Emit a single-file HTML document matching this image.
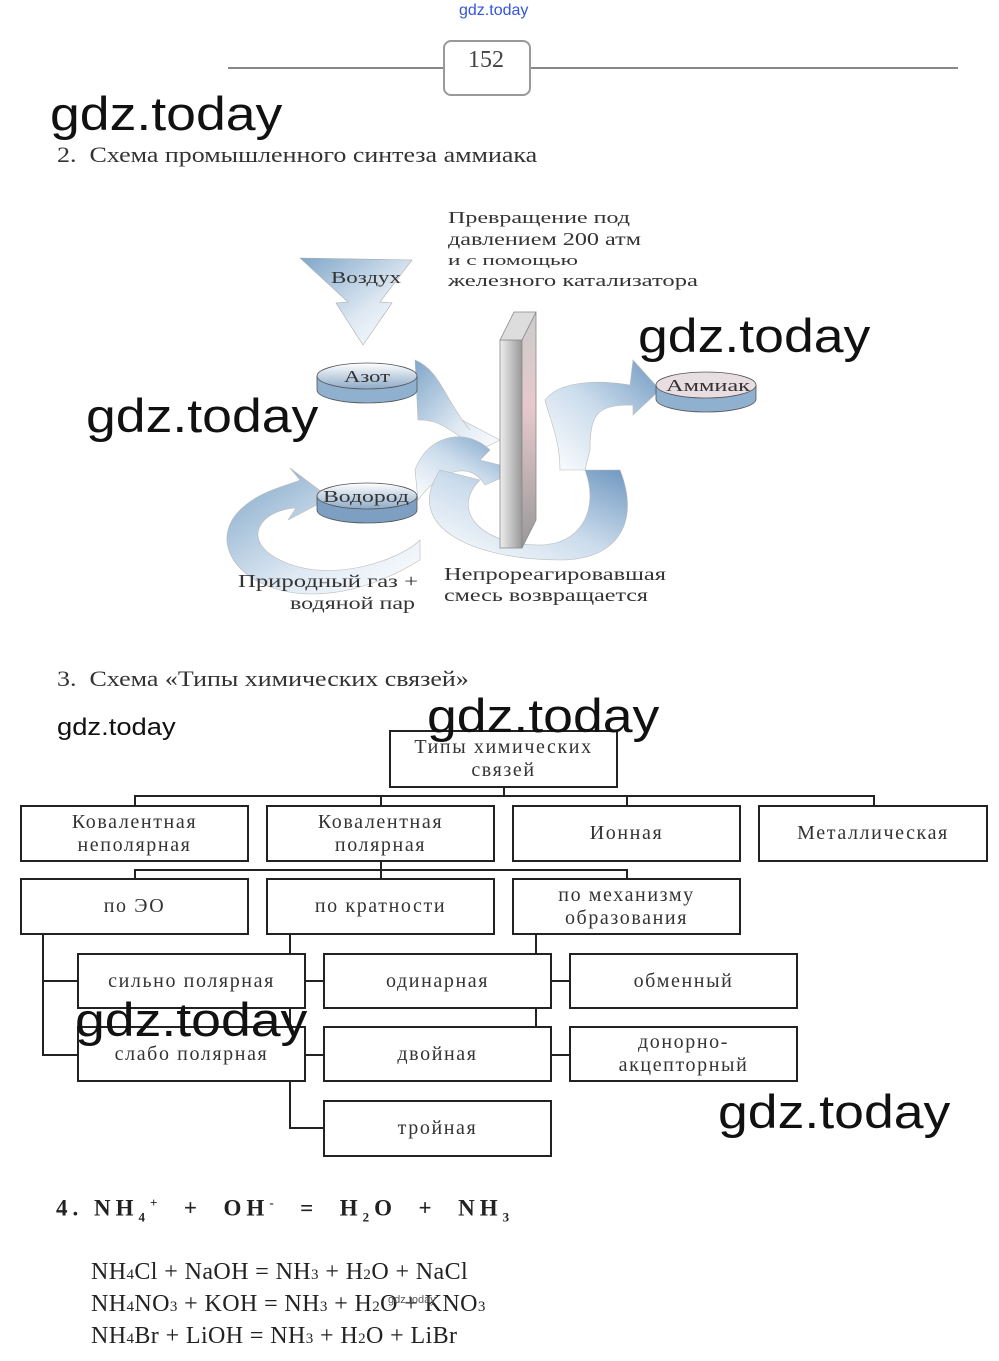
<!DOCTYPE html>
<html><head><meta charset="utf-8"><style>
body{margin:0;width:999px;height:1361px;background:#fff;position:relative;overflow:hidden;font-family:"Liberation Serif",serif;color:#222}
.a{position:absolute;white-space:nowrap}
.wm{position:absolute;font-family:"Liberation Sans",sans-serif;color:#111;font-size:47px;line-height:1;white-space:nowrap;transform:scaleX(1.14);transform-origin:0 0}
.b{position:absolute;border:2px solid #222;box-sizing:border-box;display:flex;align-items:center;justify-content:center;text-align:center;font-size:20px;line-height:23px;color:#333;background:#fff;letter-spacing:1.6px}
.l{position:absolute;background:#222}
.eq{font-size:24px;color:#222;letter-spacing:0.4px}
.h{font-size:22px;color:#333;transform:scaleX(1.18);transform-origin:0 0}
</style></head><body>
<div class="a" style="left:459px;top:2px;font-family:'Liberation Sans',sans-serif;font-size:16px;color:#3355dd">gdz.today</div>
<div class="l" style="left:228px;top:67px;width:216px;height:2px;background:#888"></div>
<div class="l" style="left:530px;top:67px;width:428px;height:2px;background:#888"></div>
<div class="a" style="left:443px;top:40px;width:88px;height:56px;border:2px solid #999;border-radius:8px;box-sizing:border-box"></div>
<div class="a" style="left:468px;top:47px;font-size:24px;color:#444">152</div>

<div class="a h" style="left:57px;top:142px">2.&nbsp; Схема промышленного синтеза аммиака</div>

<svg class="a" style="left:0;top:190px" width="999" height="450" viewBox="0 190 999 450">
<defs>
<linearGradient id="g" x1="0" y1="0" x2="1" y2="1"><stop offset="0" stop-color="#7fa6c8"/><stop offset="0.6" stop-color="#dfe9f3"/><stop offset="1" stop-color="#fff"/></linearGradient>
<linearGradient id="g2" x1="1" y1="0" x2="0" y2="1"><stop offset="0" stop-color="#6f98c0"/><stop offset="0.5" stop-color="#cbdcec"/><stop offset="1" stop-color="#fff"/></linearGradient>
<linearGradient id="col" x1="0" y1="0" x2="1" y2="0"><stop offset="0" stop-color="#eee"/><stop offset="1" stop-color="#999"/></linearGradient>
<linearGradient id="side" x1="0" y1="0" x2="0" y2="1"><stop offset="0" stop-color="#ccc"/><stop offset="0.4" stop-color="#e7c9cc"/><stop offset="1" stop-color="#999"/></linearGradient>
<linearGradient id="disk" x1="0" y1="0" x2="0" y2="1"><stop offset="0" stop-color="#fff"/><stop offset="1" stop-color="#8eaac7"/></linearGradient>
</defs>
<path d="M300 258 L412 260 L380 302 L392 303 L363 345 L336 303 L348 302 Z" fill="url(#g)" stroke="#aaa" stroke-width="0.6"/>
<path d="M415 360 C440 370 445 400 470 430 L462 420 L500 440 L470 455 L472 446 C440 420 430 420 418 420 Z" fill="url(#g)" stroke="#bbb" stroke-width="0.6"/>
<path d="M415 470 C430 430 470 430 490 450 L480 460 L520 470 L485 485 C470 460 440 470 418 500 Z" fill="url(#g2)" stroke="#bbb" stroke-width="0.6"/>
<path d="M420 560 C290 640 190 560 240 510 C260 490 290 485 300 480 L290 468 L330 498 L288 520 L296 508 C260 510 240 540 280 560 C330 585 400 560 420 540 Z" fill="url(#g)" stroke="#bbb" stroke-width="0.6"/>
<path d="M440 470 C400 530 480 560 560 560 C620 560 640 520 620 470 L585 470 C600 510 580 545 540 545 C480 545 450 510 480 480 Z" fill="url(#g2)" stroke="#bbb" stroke-width="0.6"/>
<path d="M545 400 C560 380 600 380 630 385 L633 360 L660 390 L633 415 L633 405 C600 405 590 410 590 450 L585 470 L560 470 C560 440 550 420 545 400 Z" fill="url(#g2)" stroke="#bbb" stroke-width="0.6"/>
<path d="M500 340 L522 340 L522 548 L500 548 Z" fill="url(#col)" stroke="#888" stroke-width="0.8"/>
<path d="M522 340 L536 312 L536 520 L522 548 Z" fill="url(#side)" stroke="#888" stroke-width="0.8"/>
<path d="M500 340 L514 312 L536 312 L522 340 Z" fill="#ddd" stroke="#888" stroke-width="0.8"/>
<g stroke="#555" stroke-width="0.8">
<path d="M317 376 v14 a50 13 0 0 0 100 0 v-14" fill="#8fb0cf"/><ellipse cx="367" cy="376" rx="50" ry="13" fill="url(#disk)"/>
<path d="M317 496 v14 a50 13 0 0 0 100 0 v-14" fill="#7d9fc2"/><ellipse cx="367" cy="496" rx="50" ry="13" fill="url(#disk)"/>
<path d="M656 385 v14 a50 13 0 0 0 100 0 v-14" fill="#8fb0cf"/><ellipse cx="706" cy="385" rx="50" ry="13" fill="#e8dde0"/>
</g>
<g font-family="Liberation Serif,serif" fill="#333">
<text x="331" y="283" font-size="17" textLength="70" lengthAdjust="spacingAndGlyphs">Воздух</text>
<text x="344" y="382" font-size="17" textLength="46" lengthAdjust="spacingAndGlyphs">Азот</text>
<text x="323" y="502" font-size="17" textLength="86" lengthAdjust="spacingAndGlyphs">Водород</text>
<text x="666" y="391" font-size="17" textLength="84" lengthAdjust="spacingAndGlyphs">Аммиак</text>
<text x="448" y="223" font-size="17" textLength="182" lengthAdjust="spacingAndGlyphs">Превращение под</text>
<text x="448" y="245" font-size="18" textLength="193" lengthAdjust="spacingAndGlyphs">давлением 200 атм</text>
<text x="448" y="265" font-size="15" textLength="130" lengthAdjust="spacingAndGlyphs">и с помощью</text>
<text x="448" y="286" font-size="17" textLength="250" lengthAdjust="spacingAndGlyphs">железного катализатора</text>
<text x="238" y="587" font-size="18" textLength="180" lengthAdjust="spacingAndGlyphs">Природный газ +</text>
<text x="290" y="609" font-size="18" textLength="125" lengthAdjust="spacingAndGlyphs">водяной пар</text>
<text x="444" y="580" font-size="18" textLength="222" lengthAdjust="spacingAndGlyphs">Непрореагировавшая</text>
<text x="444" y="601" font-size="18" textLength="204" lengthAdjust="spacingAndGlyphs">смесь возвращается</text>
</g>
</svg>

<div class="a h" style="left:57px;top:666px">3.&nbsp; Схема «Типы химических связей»</div>

<div class="l" style="left:503px;top:787px;width:2px;height:10px"></div>
<div class="l" style="left:134px;top:795px;width:741px;height:2px"></div>
<div class="l" style="left:134px;top:795px;width:2px;height:10px"></div>
<div class="l" style="left:380px;top:795px;width:2px;height:10px"></div>
<div class="l" style="left:626px;top:795px;width:2px;height:10px"></div>
<div class="l" style="left:873px;top:795px;width:2px;height:10px"></div>
<div class="l" style="left:134px;top:869px;width:494px;height:2px"></div>
<div class="l" style="left:380px;top:861px;width:2px;height:17px"></div>
<div class="l" style="left:134px;top:869px;width:2px;height:9px"></div>
<div class="l" style="left:626px;top:869px;width:2px;height:9px"></div>
<div class="l" style="left:42px;top:934px;width:2px;height:122px"></div>
<div class="l" style="left:42px;top:980px;width:36px;height:2px"></div>
<div class="l" style="left:42px;top:1054px;width:36px;height:2px"></div>
<div class="l" style="left:289px;top:934px;width:2px;height:194px"></div>
<div class="l" style="left:289px;top:1127px;width:34px;height:2px"></div>
<div class="l" style="left:305px;top:980px;width:18px;height:2px"></div>
<div class="l" style="left:305px;top:1054px;width:18px;height:2px"></div>
<div class="l" style="left:535px;top:934px;width:2px;height:122px"></div>
<div class="l" style="left:551px;top:980px;width:19px;height:2px"></div>
<div class="l" style="left:551px;top:1054px;width:19px;height:2px"></div>

<div class="b" style="left:389px;top:730px;width:229px;height:58px">Типы химических<br>связей</div>
<div class="b" style="left:20px;top:805px;width:229px;height:57px">Ковалентная<br>неполярная</div>
<div class="b" style="left:266px;top:805px;width:229px;height:57px">Ковалентная<br>полярная</div>
<div class="b" style="left:512px;top:805px;width:229px;height:57px">Ионная</div>
<div class="b" style="left:758px;top:805px;width:230px;height:57px">Металлическая</div>
<div class="b" style="left:20px;top:878px;width:229px;height:57px">по ЭО</div>
<div class="b" style="left:266px;top:878px;width:229px;height:57px">по кратности</div>
<div class="b" style="left:512px;top:878px;width:229px;height:57px">по механизму<br>образования</div>
<div class="b" style="left:77px;top:953px;width:229px;height:56px">сильно полярная</div>
<div class="b" style="left:77px;top:1026px;width:229px;height:56px">слабо полярная</div>
<div class="b" style="left:323px;top:953px;width:229px;height:56px">одинарная</div>
<div class="b" style="left:323px;top:1026px;width:229px;height:56px">двойная</div>
<div class="b" style="left:323px;top:1100px;width:229px;height:57px">тройная</div>
<div class="b" style="left:569px;top:953px;width:229px;height:56px">обменный</div>
<div class="b" style="left:569px;top:1026px;width:229px;height:56px">донорно-<br>акцепторный</div>
<div class="l" style="left:535px;top:1008px;width:2px;height:19px"></div>

<div class="a" style="left:56px;top:1195px;font-size:23px;font-weight:bold;letter-spacing:5px;color:#222">4. NH<sub style="font-size:13px">4</sub><sup style="font-size:13px">+</sup>&nbsp; + &nbsp;OH<sup style="font-size:13px">-</sup>&nbsp; = &nbsp;H<sub style="font-size:13px">2</sub>O &nbsp;+ &nbsp;NH<sub style="font-size:13px">3</sub></div>
<div class="a eq" style="left:91px;top:1259px">NH<span style="font-size:15px">4</span>Cl + NaOH = NH<span style="font-size:15px">3</span> + H<span style="font-size:15px">2</span>O + NaCl</div>
<div class="a eq" style="left:91px;top:1291px">NH<span style="font-size:15px">4</span>NO<span style="font-size:15px">3</span> + KOH = NH<span style="font-size:15px">3</span> + H<span style="font-size:15px">2</span>O + KNO<span style="font-size:15px">3</span></div>
<div class="a eq" style="left:91px;top:1323px">NH<span style="font-size:15px">4</span>Br + LiOH = NH<span style="font-size:15px">3</span> + H<span style="font-size:15px">2</span>O + LiBr</div>
<div class="a" style="left:388px;top:1294px;font-family:'Liberation Sans',sans-serif;font-size:11px;color:#555">gdz.today</div>

<div class="wm" style="left:50px;top:90px">gdz.today</div>
<div class="wm" style="left:638px;top:312px">gdz.today</div>
<div class="wm" style="left:86px;top:392px">gdz.today</div>
<div class="wm" style="left:427px;top:692px">gdz.today</div>
<div class="wm" style="left:57px;top:716px;font-size:24px">gdz.today</div>
<div class="wm" style="left:75px;top:996px">gdz.today</div>
<div class="wm" style="left:718px;top:1088px">gdz.today</div>
</body></html>
